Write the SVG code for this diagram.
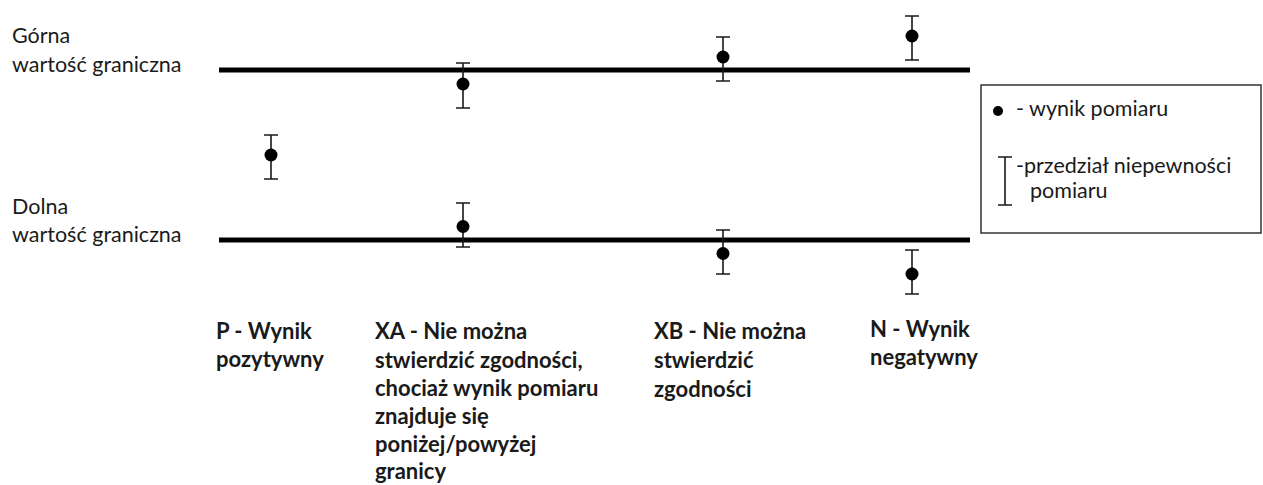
<svg xmlns="http://www.w3.org/2000/svg" width="1263" height="485" viewBox="0 0 1263 485">
<style>
.lbl{font-family:Lato,"Open Sans",sans-serif;font-size:21.5px;fill:#1a1a1a}
.b{font-weight:bold;font-size:22px}
.lg{font-size:21.5px}
.lim{stroke:#000;stroke-width:5}
.eb{stroke:#1a1a1a;stroke-width:1.6;fill:none}
.dot{fill:#000}
</style>
<rect width="1263" height="485" fill="#fff"/>
<g id="labels-left">
<text class="lbl" x="12" y="43">Górna</text>
<text class="lbl" x="12" y="72">wartość graniczna</text>
<text class="lbl" x="12" y="214">Dolna</text>
<text class="lbl" x="12" y="242">wartość graniczna</text>
</g>
<g id="connectors">
<line class="lim" x1="219" y1="70" x2="970" y2="70"/>
<line class="lim" x1="219" y1="240" x2="970" y2="240"/>
</g>
<g id="P">
<path class="eb" d="M271,135V179M264,135H278M264,179H278"/>
<circle class="dot" cx="271" cy="155" r="6.5"/>
</g>
<g id="XA">
<path class="eb" d="M463,63V108M456,63H470M456,108H470"/>
<circle class="dot" cx="463" cy="84" r="6.5"/>
<path class="eb" d="M463,203V247M456,203H470M456,247H470"/>
<circle class="dot" cx="463" cy="226.5" r="6.5"/>
</g>
<g id="XB">
<path class="eb" d="M723,37V81M716,37H730M716,81H730"/>
<circle class="dot" cx="723" cy="57" r="6.5"/>
<path class="eb" d="M723,230V274M716,230H730M716,274H730"/>
<circle class="dot" cx="723" cy="253.5" r="6.5"/>
</g>
<g id="N">
<path class="eb" d="M912,16V60M905,16H919M905,60H919"/>
<circle class="dot" cx="912" cy="36" r="6.5"/>
<path class="eb" d="M912,250V294M905,250H919M905,294H919"/>
<circle class="dot" cx="912" cy="274" r="6.5"/>
</g>
<g id="legend">
<rect x="981" y="85" width="280" height="148" fill="#fff" stroke="#333" stroke-width="1.5"/>
<circle class="dot" cx="998" cy="111" r="5"/>
<text class="lbl lg" x="1016" y="116">- wynik pomiaru</text>
<path class="eb" d="M1005,157V205M998,157H1012M998,205H1012"/>
<text class="lbl lg" x="1016" y="173">-przedział niepewności</text>
<text class="lbl lg" x="1030" y="198">pomiaru</text>
</g>
<g id="desc-P">
<text class="lbl b" x="216" y="339">P - Wynik</text>
<text class="lbl b" x="216" y="367">pozytywny</text>
</g>
<g id="desc-XA">
<text class="lbl b" x="375" y="339">XA - Nie można</text>
<text class="lbl b" x="375" y="368">stwierdzić zgodności,</text>
<text class="lbl b" x="375" y="396">chociaż wynik pomiaru</text>
<text class="lbl b" x="375" y="424">znajduje się</text>
<text class="lbl b" x="375" y="452">poniżej/powyżej</text>
<text class="lbl b" x="375" y="479">granicy</text>
</g>
<g id="desc-XB">
<text class="lbl b" x="654" y="339">XB - Nie można</text>
<text class="lbl b" x="654" y="368">stwierdzić</text>
<text class="lbl b" x="654" y="397">zgodności</text>
</g>
<g id="desc-N">
<text class="lbl b" x="870" y="337">N - Wynik</text>
<text class="lbl b" x="870" y="365">negatywny</text>
</g>
</svg>
